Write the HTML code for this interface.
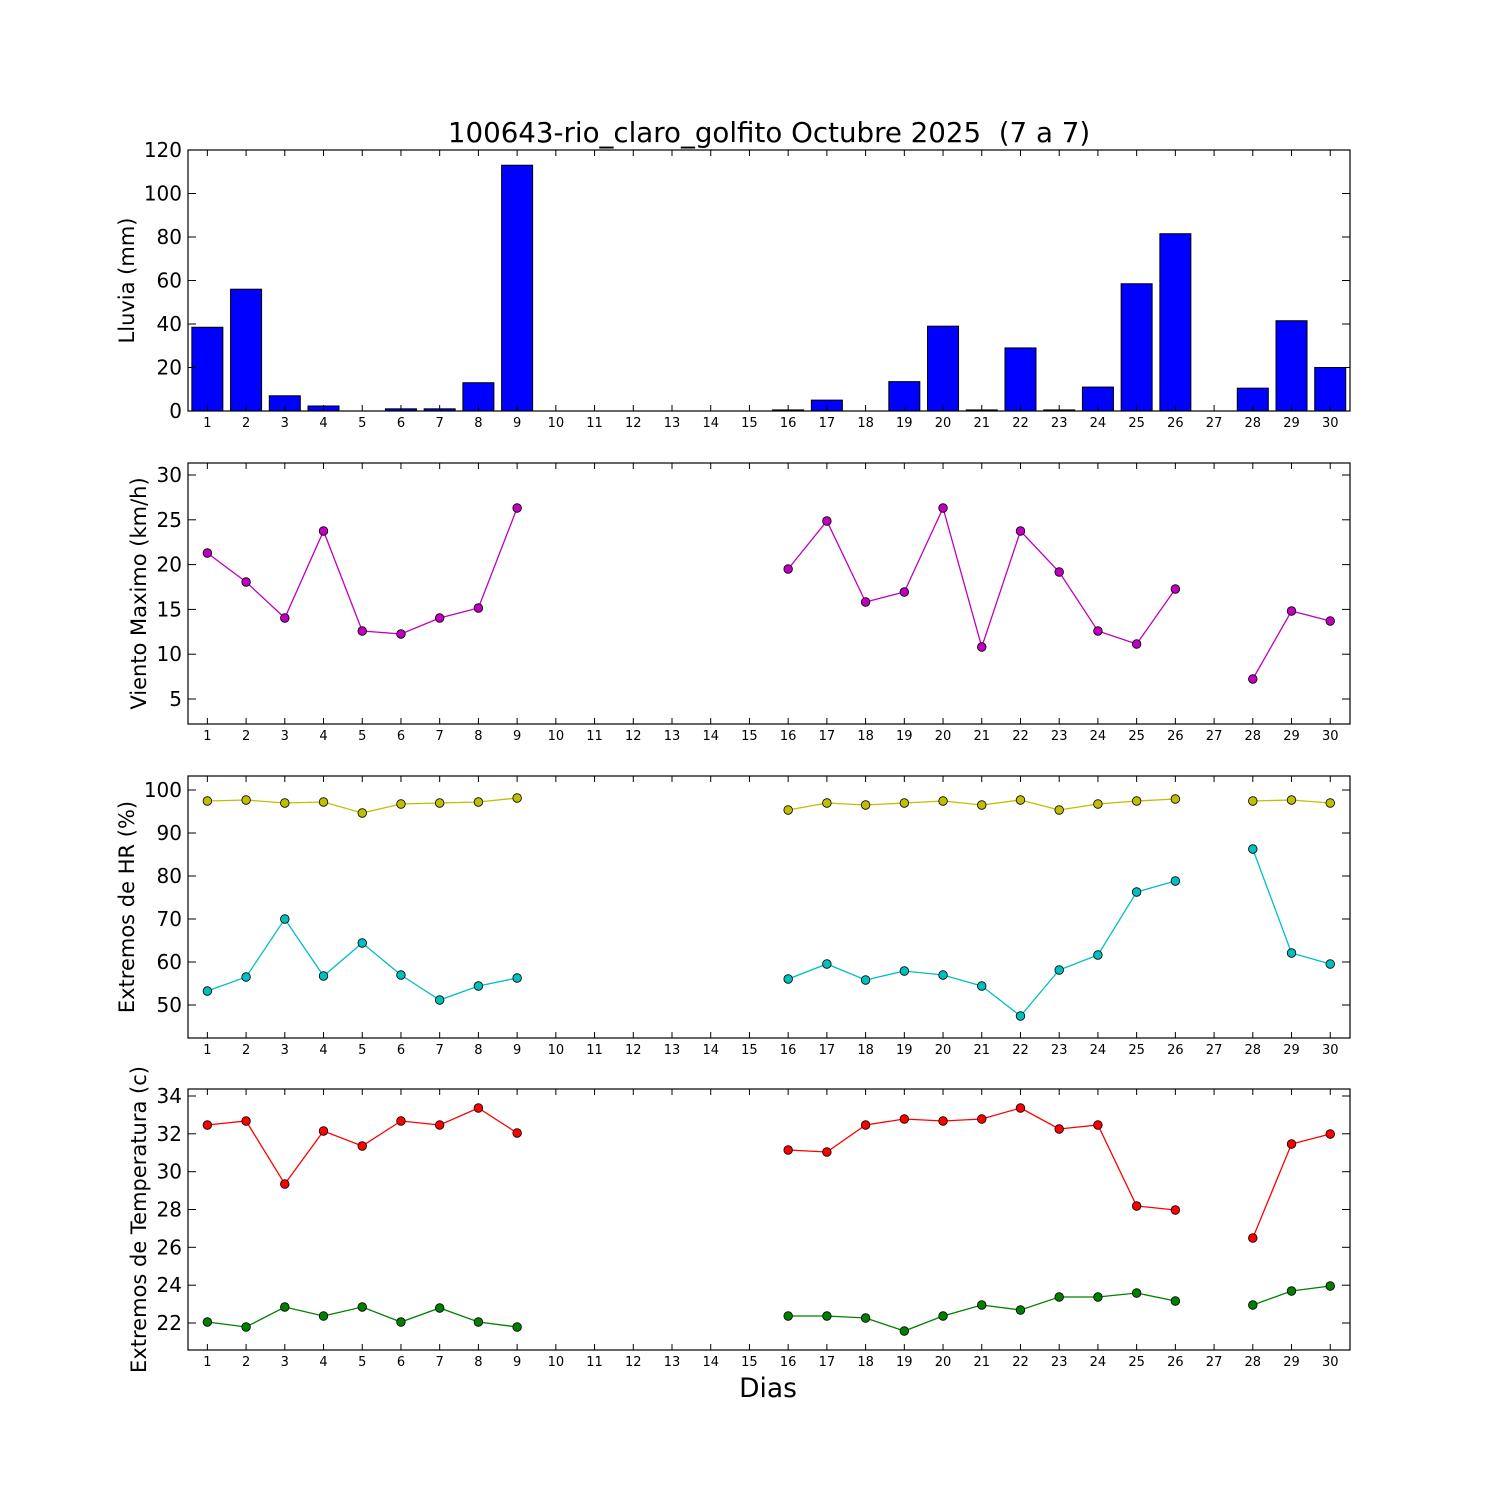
<!DOCTYPE html>
<html><head><meta charset="utf-8"><style>
html,body{margin:0;padding:0;background:#fff;}
svg text{font-family:"DejaVu Sans","Liberation Sans",sans-serif;fill:#000;}
</style></head><body>
<svg id="s" width="1500" height="1500" xmlns="http://www.w3.org/2000/svg">
<rect width="1500" height="1500" fill="#fff"/>
</svg>
<script>
const s=document.getElementById('s');let h='';
const X=d=>188+(d-0.5)*38.72;
const panels=[[150,411],[463,724],[776,1038],[1089,1350]];
const rain={1:38.5,2:56,3:7,4:2.3,6:1,7:1,8:13,9:113,16:0.5,17:5,19:13.5,20:39,21:0.5,22:29,23:0.5,24:11,25:58.5,26:81.5,28:10.5,29:41.5,30:20};
for(const d in rain){const v=rain[d];const y=411-v*2.175;h+=`<rect x="${X(+d)-15.5}" y="${y}" width="31" height="${411-y}" fill="#0000ff" stroke="#000" stroke-width="1"/>`;}
function series(obj,col){const days=Object.keys(obj).map(Number).sort((a,b)=>a-b);let seg=[];const segs=[];
for(const d of days){if(seg.length&&d!==seg[seg.length-1]+1){segs.push(seg);seg=[];}seg.push(d);}segs.push(seg);
for(const sg of segs){h+=`<polyline fill="none" stroke="${col}" stroke-width="1.3" points="${sg.map(d=>X(d)+','+obj[d]).join(' ')}"/>`;}
for(const d of days)h+=`<circle cx="${X(d)}" cy="${obj[d]}" r="4.3" fill="${col}" stroke="#000" stroke-width="0.8"/>`;}
const P=a=>{const o={};a.forEach(([d,y])=>o[d]=y);return o;};
series(P([[1,553],[2,582],[3,618],[4,531],[5,631],[6,634],[7,618],[8,608],[9,508],[16,569],[17,521],[18,602],[19,592],[20,508],[21,647],[22,531],[23,572],[24,631],[25,644],[26,589],[28,679],[29,611],[30,621]]),'#bf00bf');
series(P([[1,801],[2,800],[3,803],[4,802],[5,813],[6,804],[7,803],[8,802],[9,798],[16,810],[17,803],[18,805],[19,803],[20,801],[21,805],[22,800],[23,810],[24,804],[25,801],[26,799],[28,801],[29,800],[30,803]]),'#bfbf00');
series(P([[1,991],[2,977],[3,919],[4,976],[5,943],[6,975],[7,1000],[8,986],[9,978],[16,979],[17,964],[18,980],[19,971],[20,975],[21,986],[22,1016],[23,970],[24,955],[25,892],[26,881],[28,849],[29,953],[30,964]]),'#00bfbf');
series(P([[1,1125],[2,1121],[3,1184],[4,1131],[5,1146],[6,1121],[7,1125],[8,1108],[9,1133],[16,1150],[17,1152],[18,1125],[19,1119],[20,1121],[21,1119],[22,1108],[23,1129],[24,1125],[25,1206],[26,1210],[28,1238],[29,1144],[30,1134]]),'#ff0000');
series(P([[1,1322],[2,1327],[3,1307],[4,1316],[5,1307],[6,1322],[7,1308],[8,1322],[9,1327],[16,1316],[17,1316],[18,1318],[19,1331],[20,1316],[21,1305],[22,1310],[23,1297],[24,1297],[25,1293],[26,1301],[28,1305],[29,1291],[30,1286]]),'#008000');
const yt=[
 [[0,411],[20,367.5],[40,324],[60,280.5],[80,237],[100,193.5],[120,150]],
 [[5,699],[10,654.2],[15,609.4],[20,564.6],[25,519.8],[30,475]],
 [[50,1005],[60,962],[70,919],[80,876],[90,833],[100,790]],
 [[22,1323],[24,1285.2],[26,1247.3],[28,1209.5],[30,1171.7],[32,1133.8],[34,1096]]];
const yl=['Lluvia (mm)','Viento Maximo (km/h)','Extremos de HR (%)','Extremos de Temperatura (c)'];
panels.forEach(([t,b],i)=>{
 h+=`<rect x="188" y="${t}" width="1162" height="${b-t}" fill="none" stroke="#000" stroke-width="1.2"/>`;
 for(let d=1;d<=30;d++){const x=X(d);h+=`<line x1="${x}" y1="${b}" x2="${x}" y2="${b-6}" stroke="#000"/><line x1="${x}" y1="${t}" x2="${x}" y2="${t+6}" stroke="#000"/><text x="${x}" y="${b+16}" font-size="13" text-anchor="middle">${d}</text>`;}
 yt[i].forEach(([v,y])=>{h+=`<line x1="188" y1="${y}" x2="196" y2="${y}" stroke="#000"/><line x1="1350" y1="${y}" x2="1342" y2="${y}" stroke="#000"/><text x="182" y="${y+7}" font-size="20" text-anchor="end">${v}</text>`;});
 const cy=(t+b)/2;h+=`<text x="0" y="0" font-size="21" text-anchor="middle" transform="translate(${i==0||i==2?134:146},${cy}) rotate(-90)">${yl[i]}</text>`;
});
h+=`<text x="769" y="142" font-size="27.7" text-anchor="middle">100643-rio_claro_golfito Octubre 2025 &#160;(7 a 7)</text>`;
h+=`<text x="768" y="1397" font-size="26.5" text-anchor="middle">Dias</text>`;
s.innerHTML+=h;
</script>
</body></html>
